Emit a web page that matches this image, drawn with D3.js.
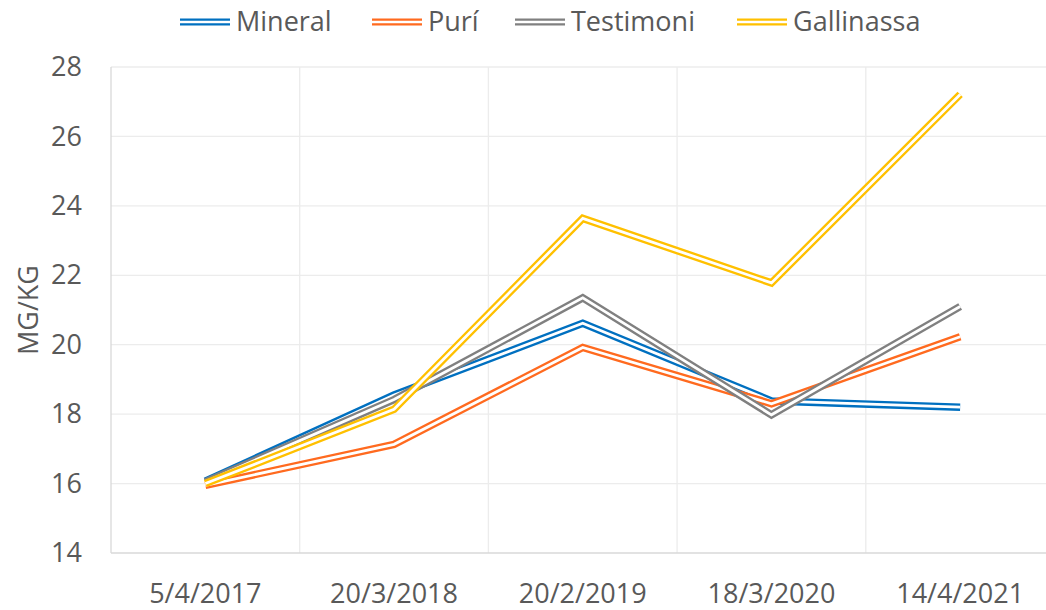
<!DOCTYPE html>
<html><head><meta charset="utf-8">
<script src="https://cdn.jsdelivr.net/npm/d3@7"></script>
<style>body{margin:0;background:#fff}svg{display:block}text{font-family:"Open Sans",sans-serif;fill:#595959}</style>
</head><body>
<svg id="c" width="1046" height="610"></svg>
<script>
const categories = ["5/4/2017","20/3/2018","20/2/2019","18/3/2020","14/4/2021"];
const seriesNames = ["Mineral","Purí","Testimoni","Gallinassa"];
const mineral    = [16.07, 18.55, 20.62, 18.38, 18.2];
const puri       = [15.95, 17.13, 19.92, 18.3, 20.23];
const testimoni  = [16.05, 18.42, 21.35, 17.98, 21.1];
const gallinassa = [16.0, 18.14, 23.64, 21.78, 27.21];
const yTicks = [14,16,18,20,22,24,26,28];
const colors = ["#0070C0","#FF6A1F","#808080","#FFC000"];
const values = [mineral, puri, testimoni, gallinassa];

const svg = d3.select("#c");
const pLeft = 111, pRight = 1054.5, pTop = 67, pBottom = 553;
const x = d3.scaleBand().domain(categories).range([pLeft, pRight]);
const y = d3.scaleLinear().domain([14, 28]).range([pBottom, pTop]);

// gridlines
svg.append("g").selectAll("line").data(yTicks.slice(1)).join("line")
  .attr("x1", pLeft).attr("x2", pRight).attr("y1", d => y(d)).attr("y2", d => y(d))
  .attr("stroke", "#ececec").attr("stroke-width", 1.3);
svg.append("g").selectAll("line").data(categories.slice(1)).join("line")
  .attr("x1", d => x(d)).attr("x2", d => x(d)).attr("y1", pTop).attr("y2", pBottom)
  .attr("stroke", "#ececec").attr("stroke-width", 1.3);
// axes lines
svg.append("line").attr("x1", pLeft).attr("x2", pLeft).attr("y1", pTop).attr("y2", pBottom).attr("stroke", "#d9d9d9").attr("stroke-width", 1.3);
svg.append("line").attr("x1", pLeft).attr("x2", pRight).attr("y1", pBottom).attr("y2", pBottom).attr("stroke", "#d9d9d9").attr("stroke-width", 1.3);

// y axis
const yAxis = d3.axisLeft(y).tickValues(yTicks).tickSize(0).tickPadding(29);
const gy = svg.append("g").attr("transform", `translate(${pLeft},0)`).call(yAxis);
gy.select(".domain").remove();
gy.selectAll("text").style("font-size", "27px").attr("fill", "#595959");

// x axis
const xAxis = d3.axisBottom(x).tickSize(0).tickPadding(31);
const gx = svg.append("g").attr("transform", `translate(0,${pBottom})`).call(xAxis);
gx.select(".domain").remove();
gx.selectAll("text").style("font-size", "27px").attr("fill", "#595959");

// y label
svg.append("text").attr("transform", "translate(38,310) rotate(-90)")
  .attr("text-anchor", "middle").style("font-size", "27px").text("MG/KG");

// lines (double)
const line = d3.line().x((d, i) => x(categories[i]) + x.bandwidth() / 2).y(d => y(d));
values.forEach((v, k) => {
  svg.append("path").attr("d", line(v)).attr("fill", "none").attr("stroke", colors[k])
    .attr("stroke-width", 7.5).attr("stroke-linejoin", "miter");
  svg.append("path").attr("d", line(v)).attr("fill", "none").attr("stroke", "#fff")
    .attr("stroke-width", 2.8).attr("stroke-linejoin", "miter");
});

// legend
const legX = [180, 372, 515, 737];
const lg = svg.append("g");
seriesNames.forEach((n, k) => {
  const g = lg.append("g").attr("transform", `translate(${legX[k]},22)`);
  g.append("line").attr("x1", 0).attr("x2", 50).attr("y1", 0).attr("y2", 0).attr("stroke", colors[k]).attr("stroke-width", 7);
  g.append("line").attr("x1", 0).attr("x2", 50).attr("y1", 0).attr("y2", 0).attr("stroke", "#fff").attr("stroke-width", 2.6);
  g.append("text").attr("x", 56).attr("y", 0).attr("dy", "0.35em").style("font-size", "27px").text(n);
});
</script>
</body></html>
